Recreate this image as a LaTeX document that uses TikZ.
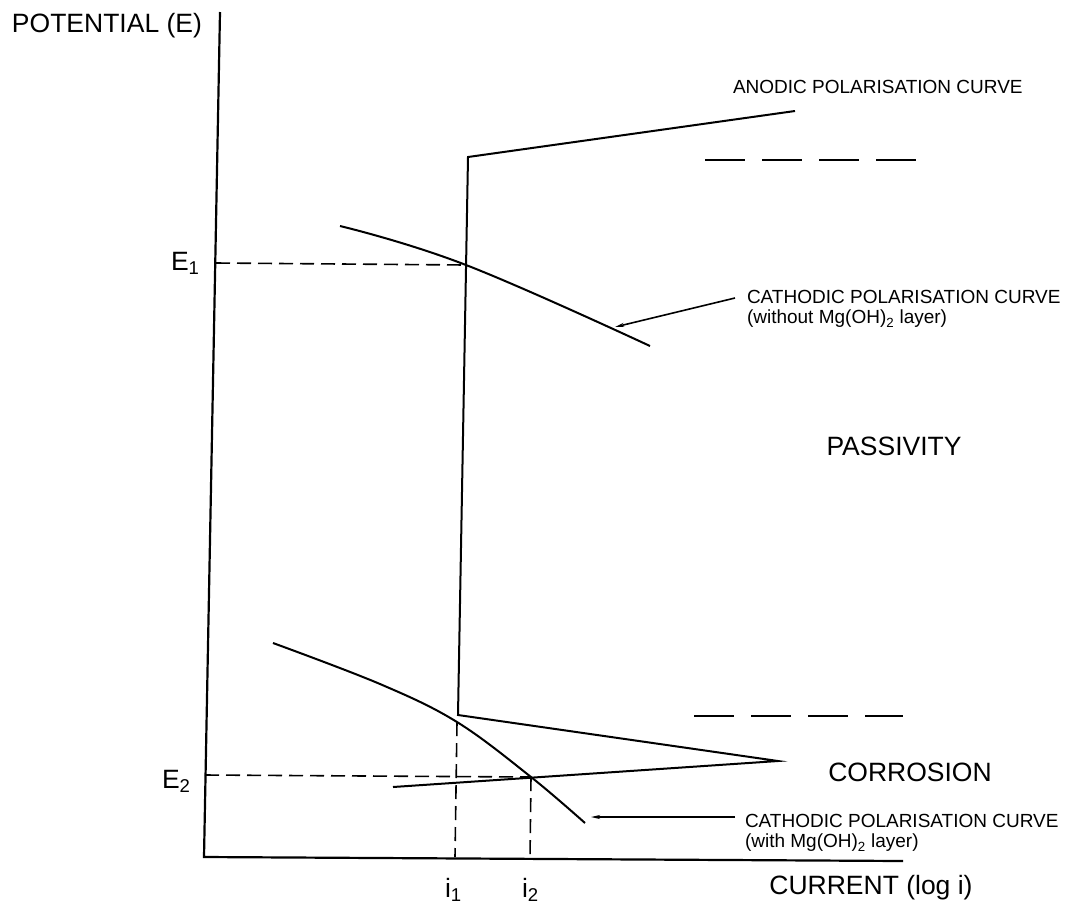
\documentclass[tikz,border=0pt]{standalone}
\usepackage{fontspec}
\setmainfont{Liberation Sans}
\usetikzlibrary{positioning,arrows.meta}

\begin{document}
\begin{tikzpicture}[x=1pt,y=-1pt]
  \tikzset{AxisStyle/.style = {
    draw          = black,
    line width    = 2.2pt,
    line join     = miter
    }
  }
  \tikzset{CurveStyle/.style = {
    draw          = black,
    line width    = 2pt,
    line join     = miter
    }
  }
  \tikzset{GuideStyle/.style = {
    draw          = black,
    line width    = 1.6pt,
    dash pattern  = on 14pt off 7pt
    }
  }
  \tikzset{LimitStyle/.style = {
    draw          = black,
    line width    = 1.8pt,
    dash pattern  = on 40pt off 17pt
    }
  }
  \tikzset{PointerStyle/.style = {
    draw          = black,
    line width    = 1.6pt,
    -{Stealth[length=9pt,width=4pt]}
    }
  }
  \tikzset{BigLabel/.style = {
    inner sep     = 0pt,
    outer sep     = 0pt,
    text          = black,
    font          = \fontsize{26.5}{30}\selectfont
    }
  }
  \tikzset{SmallLabel/.style = {
    inner sep     = 0pt,
    outer sep     = 0pt,
    align         = left,
    text          = black,
    font          = \fontsize{19}{20}\selectfont
    }
  }
  \useasboundingbox (0,0) rectangle (1084,914);

	% axes
	\coordinate (Ytop) at (220, 12);
	\coordinate (O) at (204, 857);
	\coordinate (Xend) at (903, 861);
	\draw[AxisStyle] (Ytop) -- (O) -- (Xend);
	\node[BigLabel, anchor=west](Ylabel) at (12, 26) {POTENTIAL (E)};
	\node[BigLabel](Xlabel) at (871, 888) {CURRENT (log i)};

	% anodic curve
	\coordinate (A1) at (795, 111);
	\coordinate (A2) at (468, 157);
	\coordinate (A3) at (458, 715);
	\coordinate (A4) at (778, 761);
	\coordinate (A5) at (393, 787);
	\draw[CurveStyle] (A1) -- (A2) -- (A3) -- (A4) -- (A5);

	% cathodic curves
	\coordinate (C1) at (340, 226);
	\coordinate (X1) at (466, 265);
	\coordinate (C2) at (650, 346);
	\draw[CurveStyle] plot[smooth, tension=0.7] coordinates {(C1) (X1) (C2)};
	\coordinate (D1) at (273, 643);
	\coordinate (D2) at (380, 684);
	\coordinate (X2) at (457, 722);
	\coordinate (X3) at (531, 777);
	\coordinate (D3) at (585, 823);
	\draw[CurveStyle] plot[smooth, tension=0.6] coordinates {(D1) (D2) (X2) (X3) (D3)};

	% guide lines
	\coordinate (E1y) at (216, 263);
	\coordinate (E2y) at (205, 775);
	\coordinate (i1x) at (455, 857);
	\coordinate (i2x) at (530, 858);
	\draw[GuideStyle] (E1y) -- (X1);
	\draw[GuideStyle] (E2y) -- (X3);
	\draw[GuideStyle] (X2) -- (i1x);
	\draw[GuideStyle] (X3) -- (i2x);
	\node[BigLabel, anchor=base west](E1) at (171, 270) {E\textsubscript{1}};
	\node[BigLabel, anchor=base west](E2) at (162, 788) {E\textsubscript{2}};
	\node[BigLabel, anchor=base west](i1) at (445, 897) {i\textsubscript{1}};
	\node[BigLabel, anchor=base west](i2) at (522, 897) {i\textsubscript{2}};

	% limits
	\coordinate (L1) at (705, 160);
	\coordinate (L2) at (916, 160);
	\coordinate (L3) at (694, 716);
	\coordinate (L4) at (903, 716);
	\draw[LimitStyle] (L1) -- (L2);
	\draw[LimitStyle] (L3) -- (L4);

	% labels
	\node[SmallLabel, anchor=west](Anodic) at (733, 87) {ANODIC POLARISATION CURVE};
	\node[SmallLabel, anchor=west](CathA) at (747, 309) {CATHODIC POLARISATION CURVE\\(without Mg(OH)\textsubscript{2} layer)};
	\node[SmallLabel, anchor=west](CathB) at (745, 833) {CATHODIC POLARISATION CURVE\\(with Mg(OH)\textsubscript{2} layer)};
	\node[BigLabel](Passive) at (894, 446) {PASSIVITY};
	\node[BigLabel](Corrode) at (910, 772) {CORROSION};

	\coordinate (P1) at (735, 298);
	\coordinate (T1) at (615, 327);
	\coordinate (P2) at (735, 817);
	\coordinate (T2) at (591, 817);
	\draw[PointerStyle] (P1) -- (T1);
	\draw[PointerStyle] (P2) -- (T2);
\end{tikzpicture}
\end{document}
